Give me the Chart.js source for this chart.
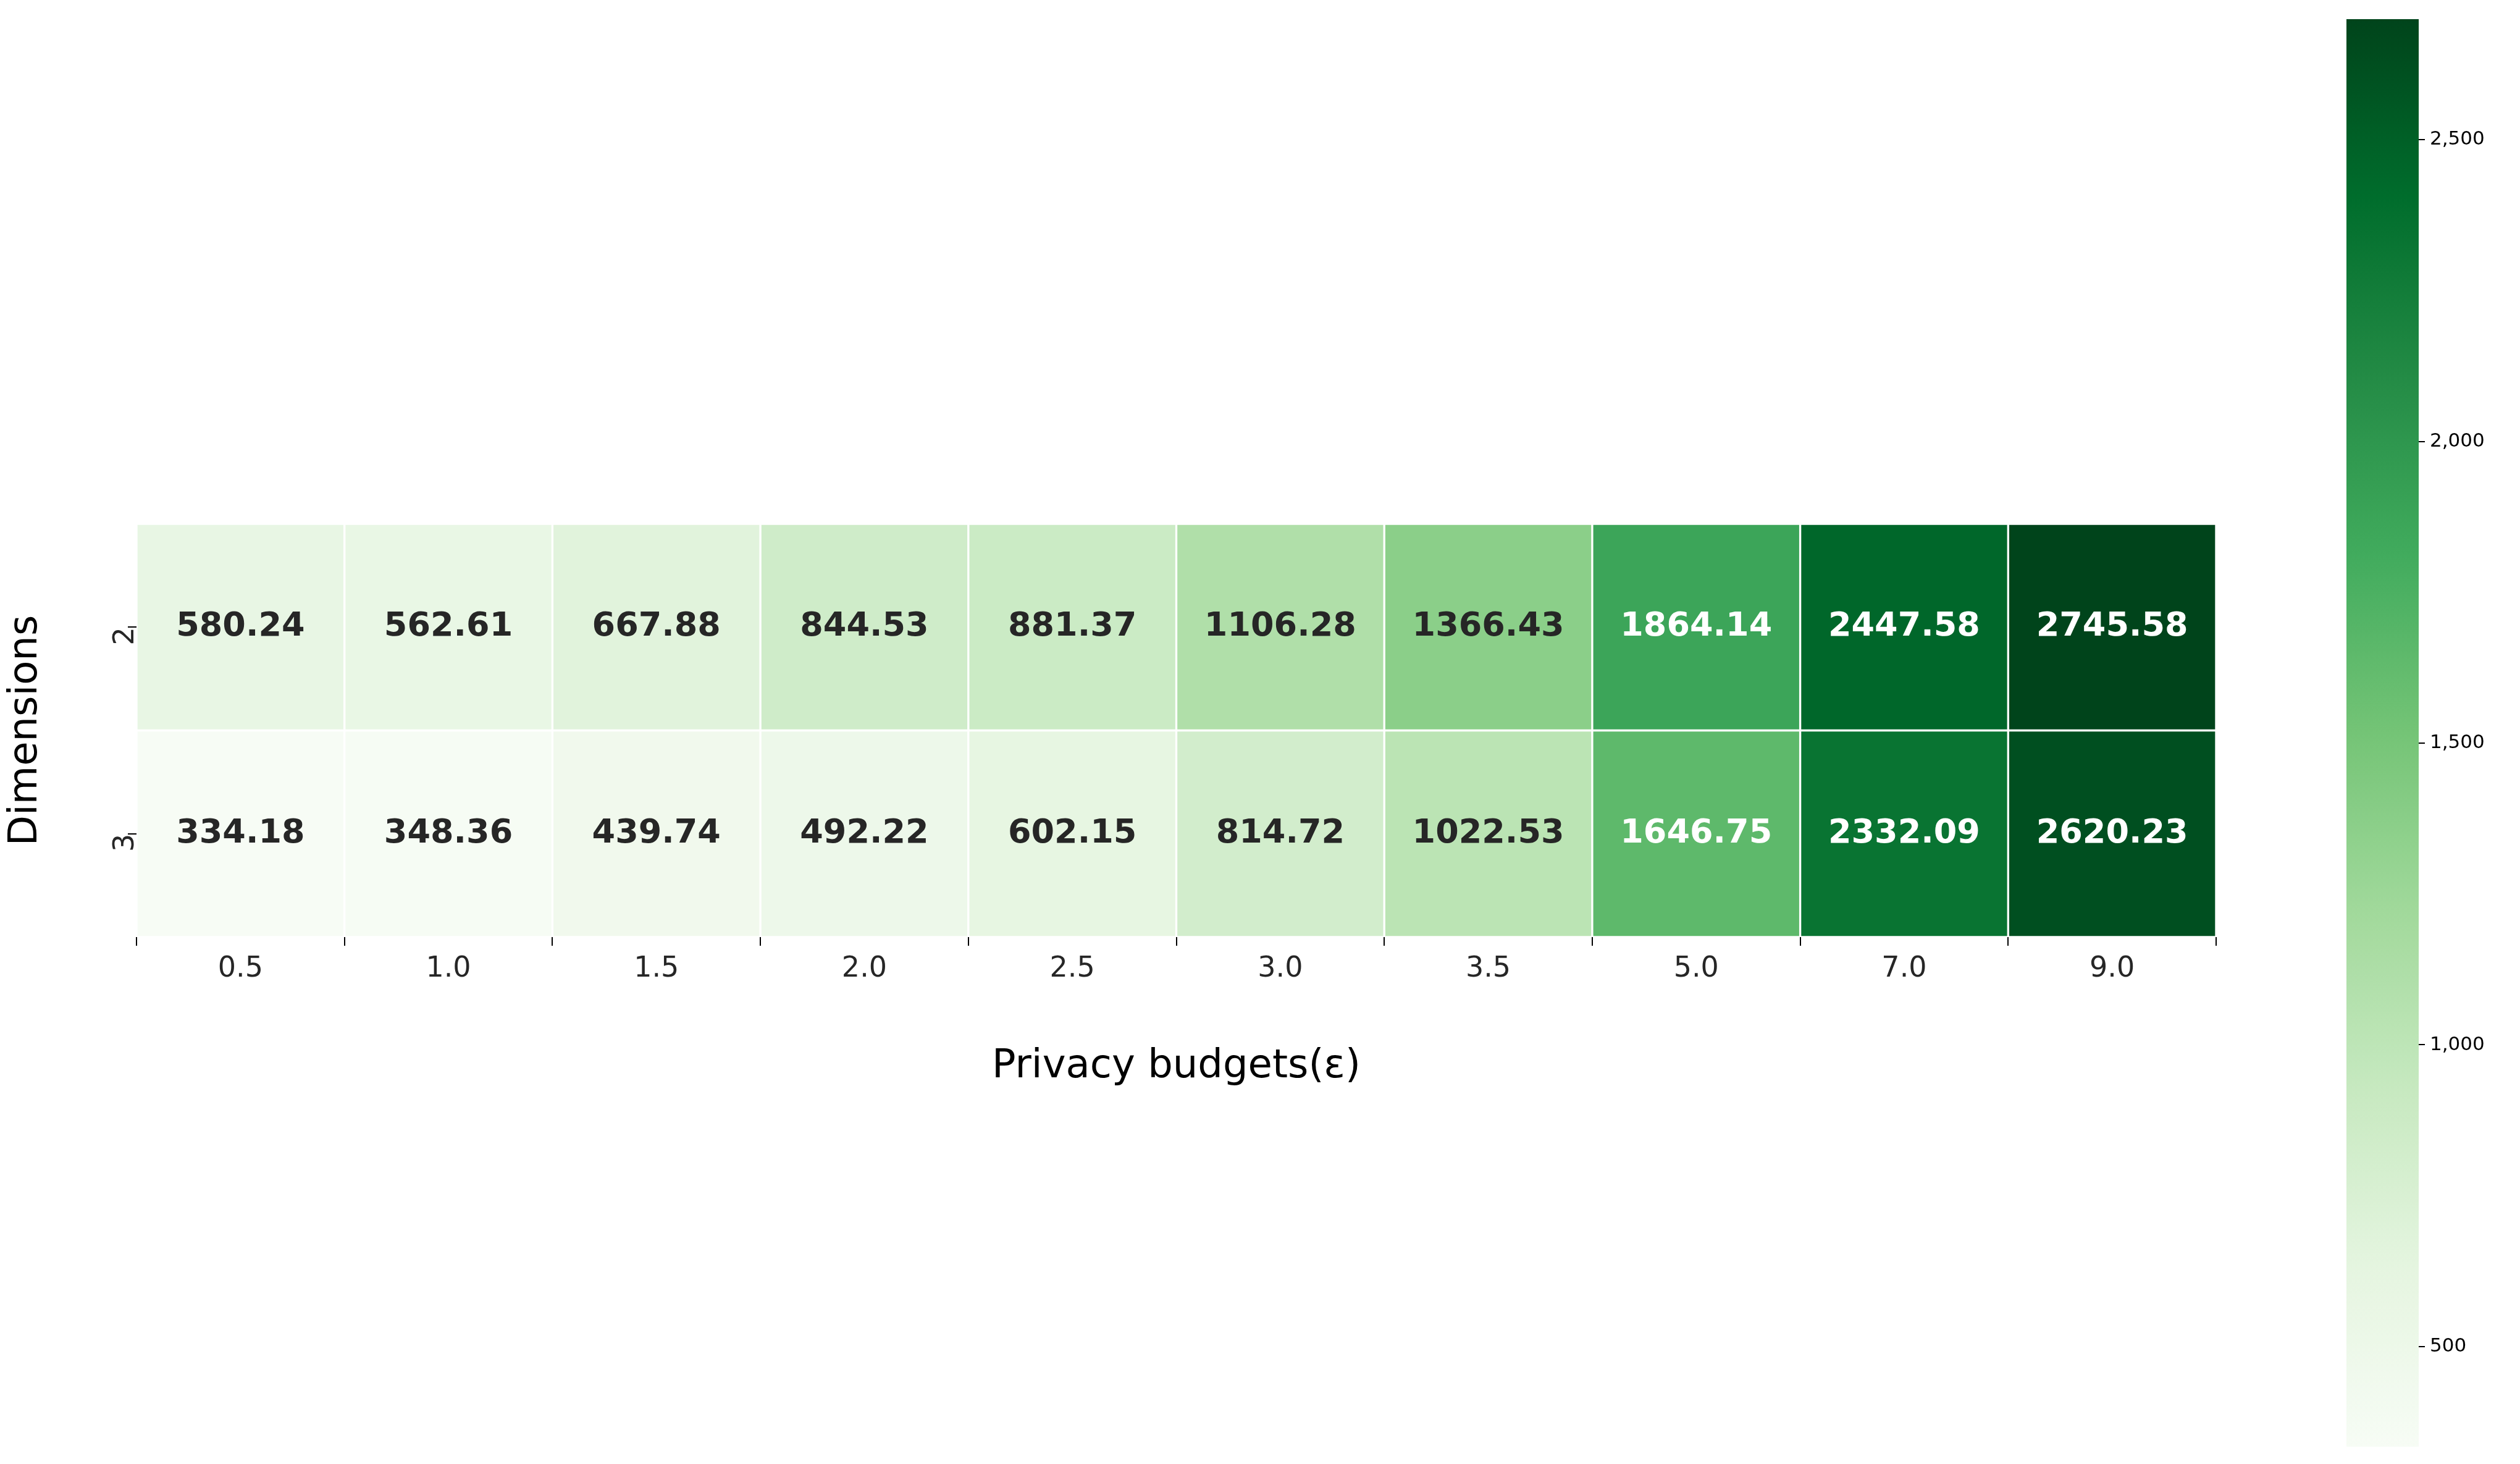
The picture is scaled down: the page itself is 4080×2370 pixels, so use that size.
<!DOCTYPE html>
<html><head><meta charset="utf-8">
<script src="https://cdn.jsdelivr.net/npm/chart.js@4"></script>
<style>
body{margin:0;background:#fff;width:4080px;height:2370px;position:relative;overflow:hidden}
canvas{position:absolute}
</style></head><body>
<canvas id="heat" style="left:0;top:0;width:3700px;height:2370px"></canvas>
<canvas id="bar" style="left:3799px;top:0;width:281px;height:2370px"></canvas>
<script>
// ================= DATA =================
const budgets = ["0.5","1.0","1.5","2.0","2.5","3.0","3.5","5.0","7.0","9.0"];
const rowLabels = ["2","3"];
const dim2 = [580.24,562.61,667.88,844.53,881.37,1106.28,1366.43,1864.14,2447.58,2745.58];
const dim3 = [334.18,348.36,439.74,492.22,602.15,814.72,1022.53,1646.75,2332.09,2620.23];
const vmin = 334, vmax = 2700;
const cbTicks = [500,1000,1500,2000,2500];

// ================= COLORMAP (Greens) =================
const greens = ["#f7fcf5","#e5f5e0","#c7e9c0","#a1d99b","#74c476","#41ab5d","#238b45","#006d2c","#00441b"];
function hex(h){return [1,3,5].map(i=>parseInt(h.substr(i,2),16));}
function cmap(v){
  let t=Math.min(1,Math.max(0,(v-vmin)/(vmax-vmin)))*(greens.length-1);
  const i=Math.min(greens.length-2,Math.floor(t)), f=t-i;
  const a=hex(greens[i]), b=hex(greens[i+1]);
  return "rgb("+a.map((x,k)=>Math.round(x+(b[k]-x)*f)).join(",")+")";
}

// ================= HEATMAP =================
const F = "'DejaVu Sans', sans-serif";
const labelPlugin = {
  id:"cellLabels",
  afterDatasetsDraw(chart){
    const ctx=chart.ctx;
    ctx.save();
    ctx.font="bold 54px "+F;
    ctx.textAlign="center"; ctx.textBaseline="middle";
    chart.data.datasets.forEach((ds,di)=>{
      chart.getDatasetMeta(di).data.forEach((el,i)=>{
        const v=ds.vals[i];
        ctx.fillStyle = v>1500 ? "#ffffff" : "#262626";
        ctx.fillText(v.toFixed(2), el.x, (el.y+el.base)/2);
      });
    });
    ctx.restore();
  }
};

new Chart(document.getElementById("heat"),{
  type:"bar",
  data:{labels:budgets, datasets:[
    {vals:dim2, data:dim2.map(()=>[1,2]), backgroundColor:dim2.map(cmap)},
    {vals:dim3, data:dim3.map(()=>[0,1]), backgroundColor:dim3.map(cmap)}
  ].map(d=>Object.assign(d,{borderColor:"#ffffff",borderWidth:2,borderSkipped:false,categoryPercentage:1,barPercentage:1}))},
  options:{
    responsive:false, animation:false, devicePixelRatio:1,
    layout:{padding:{left:0,top:848,right:112,bottom:600}},
    plugins:{legend:{display:false},tooltip:{enabled:false}},
    scales:{
      x:{stacked:true,
        grid:{display:true,drawOnChartArea:false,drawTicks:true,tickLength:14,color:"#000",lineWidth:2},
        border:{display:false},
        ticks:{font:{size:46,family:F},color:"#262626",padding:10},
        title:{display:true,text:"Privacy budgets(\u03B5)",font:{size:64,family:F},color:"#000",padding:{top:8}},
        afterFit:s=>{s.height=253;}
      },
      y:{min:0,max:2,
        afterBuildTicks:s=>{s.ticks=[{value:0.5},{value:1.5}];},
        grid:{display:true,drawOnChartArea:false,drawTicks:true,tickLength:14,color:"#000",lineWidth:2},
        border:{display:false},
        ticks:{font:{size:46,family:F},color:"#262626",minRotation:90,maxRotation:90,
          callback:v=>v<1?rowLabels[1]:rowLabels[0]},
        title:{display:true,text:"Dimensions",font:{size:64,family:F},color:"#000"},
        afterFit:s=>{s.width=221;}
      }
    }
  },
  plugins:[labelPlugin]
});

// ================= COLORBAR =================
new Chart(document.getElementById("bar"),{
  type:"bar",
  data:{labels:["c"],datasets:[{data:[[vmin,vmax]],borderWidth:0,categoryPercentage:1,barPercentage:1,
    backgroundColor:c=>{
      const a=c.chart.chartArea; if(!a) return greens[4];
      const g=c.chart.ctx.createLinearGradient(0,a.bottom,0,a.top);
      for(let k=0;k<=40;k++) g.addColorStop(k/40,cmap(vmin+(vmax-vmin)*k/40));
      return g;
    }}]},
  options:{
    responsive:false, animation:false, devicePixelRatio:1,
    layout:{padding:{left:0,top:31,right:0,bottom:28}},
    plugins:{legend:{display:false},tooltip:{enabled:false}},
    scales:{
      x:{display:false},
      y:{position:"right",min:vmin,max:vmax,
        afterBuildTicks:s=>{s.ticks=cbTicks.map(v=>({value:v}));},
        grid:{display:true,drawOnChartArea:false,drawTicks:true,tickLength:10,color:"#000",lineWidth:2},
        border:{display:false},
        ticks:{font:{size:31,family:F},color:"#000",padding:8},
        afterFit:s=>{s.width=164;}
      }
    }
  }
});
</script>
</body></html>
